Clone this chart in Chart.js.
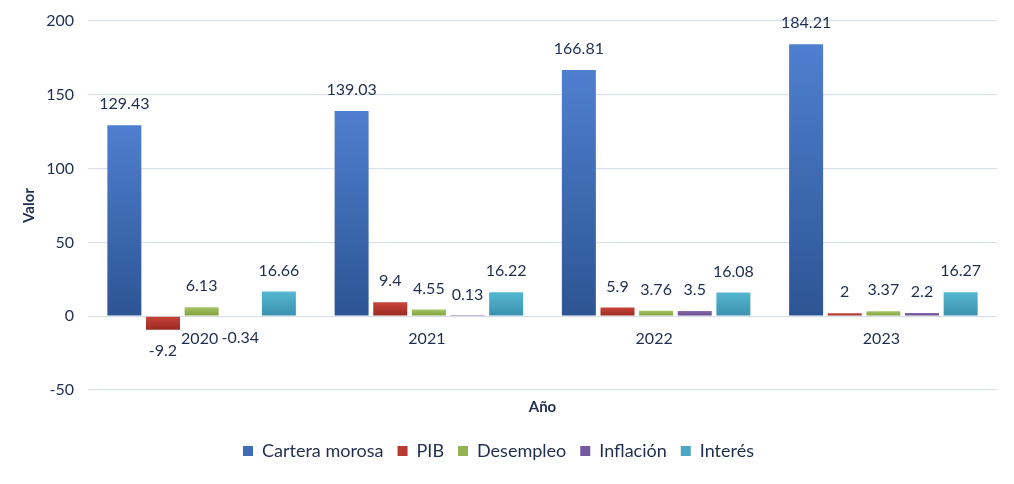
<!DOCTYPE html>
<html>
<head>
<meta charset="utf-8">
<script src="https://cdn.jsdelivr.net/npm/chart.js@4.4.1/dist/chart.umd.min.js"></script>
<style>
  html, body { margin: 0; padding: 0; background: #ffffff; }
  #wrap { width: 1014px; height: 484px; }
</style>
</head>
<body>
<div id="wrap"><canvas id="chart"></canvas></div>
<script>
// values
const years = ['2020', '2021', '2022', '2023'];
const carteraMorosa = [129.43, 139.03, 166.81, 184.21];
const pib = [-9.2, 9.4, 5.9, 2];
const desempleo = [6.13, 4.55, 3.76, 3.37];
const inflacion = [-0.34, 0.13, 3.5, 2.2];
const interes = [16.66, 16.22, 16.08, 16.27];
const seriesNames = ['Cartera morosa', 'PIB', 'Desempleo', 'Inflación', 'Interés'];

// [light, dark] per series
const palette = [
  ['#4f7fcf', '#2d5594'],
  ['#c8443b', '#9a2a22'],
  ['#a5c465', '#7f9e3c'],
  ['#8a6cb0', '#5e4585'],
  ['#55b7d1', '#3b91ae']
];
const solid = ['#3f6cb8', '#b83a32', '#93b350', '#7458a0', '#4aa8c4'];
const textColor = '#1f2d4e';
const FONT = 'Lato';

function barFill(i) {
  return function (ctx) {
    var chart = ctx.chart, y = chart.scales.y;
    if (!y || ctx.raw === undefined) return solid[i];
    var zero = y.getPixelForValue(0);
    var end = y.getPixelForValue(ctx.raw);
    var top = Math.min(zero, end), bot = Math.max(zero, end);
    if (bot - top < 1) bot = top + 1;
    var g = chart.ctx.createLinearGradient(0, top, 0, bot);
    g.addColorStop(0, palette[i][0]);
    g.addColorStop(1, palette[i][1]);
    return g;
  };
}

const values = [carteraMorosa, pib, desempleo, inflacion, interes];
const datasets = values.map(function (v, i) {
  return {
    label: seriesNames[i],
    data: v,
    backgroundColor: barFill(i),
    borderWidth: 0,
    categoryPercentage: 0.85,
    barPercentage: 0.88
  };
});

// value labels + category labels sitting at the zero line
const labelPlugin = {
  id: 'labels',
  afterDatasetsDraw: function (chart) {
    var c = chart.ctx, y = chart.scales.y, x = chart.scales.x;
    c.save();
    c.fillStyle = textColor;
    c.font = '16px ' + FONT;
    c.textAlign = 'center';
    c.textBaseline = 'middle';
    chart.data.datasets.forEach(function (ds, di) {
      var meta = chart.getDatasetMeta(di);
      meta.data.forEach(function (bar, j) {
        var v = ds.data[j];
        var ty = v >= 0 ? bar.y - 21 : bar.y + 21;
        c.fillText(String(v), bar.x, ty);
      });
    });
    var zero = y.getPixelForValue(0);
    years.forEach(function (yr, j) {
      c.fillText(yr, x.getPixelForValue(j) - 2, zero + 23);
    });
    c.restore();
  }
};

new Chart(document.getElementById('chart'), {
  type: 'bar',
  data: { labels: years, datasets: datasets },
  plugins: [labelPlugin],
  options: {
    responsive: true,
    maintainAspectRatio: false,
    animation: false,
    layout: { padding: { top: 21, right: 17, bottom: 14, left: 0 } },
    plugins: {
      tooltip: { enabled: false },
      legend: {
        position: 'bottom',
        labels: {
          color: textColor,
          font: { family: FONT, size: 18 },
          boxWidth: 10,
          boxHeight: 10,
          padding: 14,
          generateLabels: function (chart) {
            return chart.data.datasets.map(function (ds, i) {
              return {
                text: ds.label,
                fillStyle: solid[i],
                strokeStyle: solid[i],
                lineWidth: 0,
                datasetIndex: i,
                hidden: false,
                fontColor: textColor
              };
            });
          }
        }
      }
    },
    scales: {
      x: {
        grid: { display: false },
        border: { display: false },
        ticks: { display: false },
        title: {
          display: true,
          text: 'Año',
          color: textColor,
          font: { family: FONT, size: 15, weight: 'bold' },
          padding: { top: 0, bottom: 12 }
        }
      },
      y: {
        min: -50,
        max: 200,
        ticks: {
          stepSize: 50,
          color: textColor,
          font: { family: FONT, size: 16 },
          padding: 14
        },
        grid: { color: '#d9e1ec', lineWidth: 1.3, drawTicks: false },
        border: { display: false },
        title: {
          display: true,
          text: 'Valor',
          color: textColor,
          font: { family: FONT, size: 15, weight: 'bold' },
          padding: { top: 20, bottom: 0 }
        },
        afterFit: function (s) {
          s.width = 88;
          s.paddingTop = 0;
          s.paddingBottom = 0;
        }
      }
    }
  }
});
</script>
</body>
</html>
